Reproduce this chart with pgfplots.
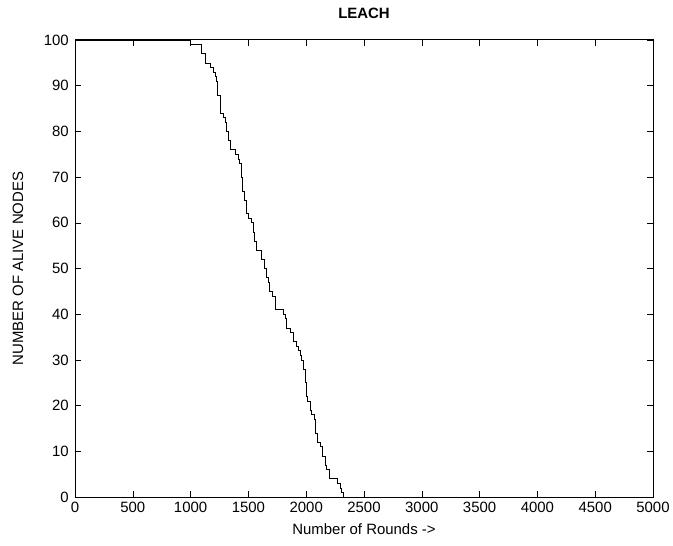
\documentclass[border=0pt]{standalone}
\usepackage{fontspec}
\setmainfont{Liberation Sans}
\usepackage{pgfplots}
\pgfplotsset{compat=1.18}
\begin{document}
\begin{tikzpicture}
\begin{axis}[
  at={(0,0)}, anchor=south west,
  scale only axis,
  width=578bp, height=457bp,
  xmin=0, xmax=5000, ymin=0, ymax=100,
  xtick={0,500,...,5000}, ytick={0,10,...,100},
  tick align=inside,
  major tick length=6bp,
  tick style={black, line width=0.5pt},
  axis line style={black, line width=1pt},
  /pgf/number format/assume math mode=true,
  /pgf/number format/1000 sep={},
  ticklabel style={font=\fontsize{15}{17}\selectfont},
  xticklabel style={anchor=north, inner sep=0pt, yshift=-5bp},
  yticklabel style={anchor=east, inner sep=0pt, xshift=-6bp},
  title={\textbf{LEACH}},
  title style={at={(axis description cs:0.5,1.046)}, anchor=center, font=\fontsize{15}{17}\selectfont},
  xlabel={Number of Rounds ->},
  xlabel style={at={(axis description cs:0.5,-0.070)}, anchor=center, font=\fontsize{15}{17}\selectfont},
  ylabel={NUMBER OF ALIVE NODES},
  ylabel style={at={(axis description cs:-0.0986,0.5)}, anchor=center, font=\fontsize{15}{17}\selectfont},
  clip=true,
]
\addplot[const plot, black, line width=0.6pt] coordinates {
(0,100) (1000,99) (1096,97) (1125,95) (1174,94) (1197,93) (1211,92) (1225,91)
(1231,88) (1260,84) (1285,83) (1298,82) (1312,80) (1330,78) (1347,76) (1384,75)
(1413,74) (1421,73) (1440,70) (1448,67) (1465,65) (1479,62) (1499,61) (1528,60)
(1543,58) (1555,56) (1566,54) (1615,52) (1638,50) (1658,48) (1672,47) (1681,45)
(1710,44) (1730,41) (1803,40) (1817,39) (1832,37) (1866,36) (1889,34) (1912,33)
(1932,32) (1946,31) (1961,30) (1975,28) (1990,25) (1998,22) (2010,21) (2033,19)
(2047,18) (2067,17) (2076,14) (2096,12) (2119,11) (2142,9) (2163,7) (2177,6)
(2200,4) (2269,3) (2292,2) (2307,1) (2321,0) (2400,0)
};
\end{axis}
\pgfresetboundingbox
\path (-75bp,-49bp) rectangle (598bp,497bp);
\end{tikzpicture}
\end{document}
